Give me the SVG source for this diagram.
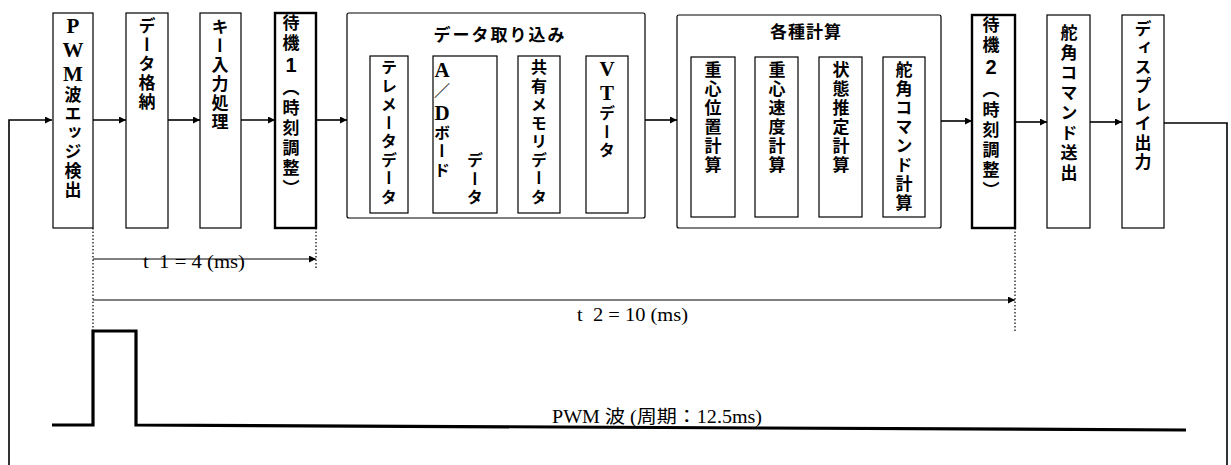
<svg xmlns="http://www.w3.org/2000/svg" width="1231" height="465" viewBox="0 0 1231 465">
<defs>
<marker id="ah" viewBox="0 0 8 8" refX="8" refY="4" markerWidth="8" markerHeight="7" markerUnits="userSpaceOnUse" orient="auto">
<path d="M0,0 L8,4 L0,8 Z" fill="#000"/>
</marker>
<style>
.box{fill:#fff;stroke:#000;stroke-width:1.2}
.bold{fill:#fff;stroke:#000;stroke-width:2.4}
.grp{fill:#fff;stroke:#000;stroke-width:1.2}
.v{writing-mode:vertical-rl;text-orientation:upright;font-family:"Noto Sans CJK JP","Noto Sans CJK SC",sans-serif;font-weight:700;font-size:17px;letter-spacing:2px;fill:#000}
.vs{font-size:16px;letter-spacing:2.5px}
.h{font-family:"Noto Sans CJK JP",sans-serif;font-weight:700;font-size:17px;fill:#000}
.lat{font-family:"Liberation Serif",serif;font-weight:700;font-size:21px;letter-spacing:0}
.dig{font-family:"Liberation Sans",sans-serif;font-weight:700;font-size:20px}
.lab{font-family:"Liberation Serif","Noto Sans CJK JP",serif;font-size:18px;fill:#000}
.c{fill:none;stroke:#000;stroke-width:1.6}
.thin{fill:none;stroke:#000;stroke-width:1}
.dot{fill:none;stroke:#000;stroke-width:1.2;stroke-dasharray:1.5,2}
.wave{fill:none;stroke:#000;stroke-width:3.2;stroke-linejoin:miter}
</style>
</defs>

<g id="connectors">
<path class="c" d="M9,465 V120 H52" marker-end="url(#ah)"/>
<path class="c" d="M93,120 H126" marker-end="url(#ah)"/>
<path class="c" d="M168,120 H200" marker-end="url(#ah)"/>
<path class="c" d="M241,120 H275" marker-end="url(#ah)"/>
<path class="c" d="M316,120 H347" marker-end="url(#ah)"/>
<path class="c" d="M408,120 H433" marker-end="url(#ah)"/>
<path class="c" d="M497,120 H518" marker-end="url(#ah)"/>
<path class="c" d="M560,120 H586" marker-end="url(#ah)"/>
<path class="c" d="M645,120 H677" marker-end="url(#ah)"/>
<path class="c" d="M735,120 H755" marker-end="url(#ah)"/>
<path class="c" d="M798,120 H819" marker-end="url(#ah)"/>
<path class="c" d="M862,120 H883" marker-end="url(#ah)"/>
<path class="c" d="M941,121 H972" marker-end="url(#ah)"/>
<path class="c" d="M1015,122 H1047" marker-end="url(#ah)"/>
<path class="c" d="M1090,122 H1122" marker-end="url(#ah)"/>
<path class="c" d="M1164,123 H1227 V465"/>
<path class="dot" d="M93,228 V331"/>
<path class="dot" d="M316,228 V269"/>
<path class="dot" d="M1015,228 V333"/>
<path class="thin" d="M93,259 H316" marker-end="url(#ah)"/>
<path class="thin" d="M93,300 H1015" marker-end="url(#ah)"/>
<path class="wave" d="M52,425 H93 V331 H136 V425 L1186,430"/>
</g>

<g id="t1label"><text class="lab" x="143" y="268" textLength="102" lengthAdjust="spacingAndGlyphs">t&#160;&#160;1 = 4 (ms)</text></g>
<g id="t2label"><text class="lab" x="577" y="321" textLength="111" lengthAdjust="spacingAndGlyphs">t&#160;&#160;2 = 10 (ms)</text></g>
<g id="pwmlabel"><text class="lab" x="552" y="423" textLength="210" lengthAdjust="spacingAndGlyphs">PWM 波&#160;(周期：12.5ms)</text></g>

<g id="n-pwm"><rect class="box" x="53" y="13" width="40" height="215"/><text class="v" x="73" y="14"><tspan class="lat">PWM</tspan>波エッジ検出</text></g>
<g id="n-store"><rect class="box" x="126" y="13" width="42" height="215"/><text class="v" x="147" y="17">データ格納</text></g>
<g id="n-key"><rect class="box" x="200" y="13" width="41" height="215"/><text class="v" x="220" y="18">キー入力処理</text></g>
<g id="n-wait1"><rect class="bold" x="275" y="13" width="41" height="215"/><text class="v" x="291" y="14" style="letter-spacing:3px">待機<tspan class="dig">1</tspan>（時刻調整）</text></g>

<g id="n-data"><rect class="grp" x="347" y="13" width="298" height="205" rx="2"/><text class="h" x="500" y="41" text-anchor="middle" letter-spacing="2">データ取り込み</text></g>
<g id="n-tele"><rect class="box" x="370" y="56" width="38" height="157"/><text class="v vs" x="389" y="59">テレメータデータ</text></g>
<g id="n-ad"><rect class="box" x="433" y="56" width="64" height="157"/><text class="v vs" x="442" y="58"><tspan class="lat">A</tspan>／<tspan class="lat">D</tspan>ボード</text><text class="v vs" x="475" y="152">データ</text></g>
<g id="n-shm"><rect class="box" x="518" y="56" width="42" height="157"/><text class="v vs" x="539" y="59">共有メモリデータ</text></g>
<g id="n-vt"><rect class="box" x="586" y="56" width="42" height="157"/><text class="v vs" x="607" y="57"><tspan class="lat">VT</tspan>データ</text></g>

<g id="n-calc"><rect class="grp" x="677" y="15" width="264" height="213" rx="2"/><text class="h" x="806" y="38" text-anchor="middle" letter-spacing="1">各種計算</text></g>
<g id="n-pos"><rect class="box" x="691" y="57" width="44" height="160"/><text class="v" x="713" y="61">重心位置計算</text></g>
<g id="n-vel"><rect class="box" x="755" y="57" width="43" height="160"/><text class="v" x="777" y="61">重心速度計算</text></g>
<g id="n-est"><rect class="box" x="819" y="57" width="43" height="160"/><text class="v" x="841" y="61">状態推定計算</text></g>
<g id="n-cmd"><rect class="box" x="883" y="57" width="42" height="160"/><text class="v" x="904" y="61">舵角コマンド計算</text></g>

<g id="n-wait2"><rect class="bold" x="972" y="15" width="43" height="213"/><text class="v" x="991" y="16" style="letter-spacing:3px">待機<tspan class="dig">2</tspan>（時刻調整）</text></g>
<g id="n-send"><rect class="box" x="1047" y="15" width="43" height="213"/><text class="v" x="1069" y="24" style="letter-spacing:3px">舵角コマンド送出</text></g>
<g id="n-disp"><rect class="box" x="1122" y="15" width="42" height="213"/><text class="v" x="1143" y="20">ディスプレイ出力</text></g>
</svg>
